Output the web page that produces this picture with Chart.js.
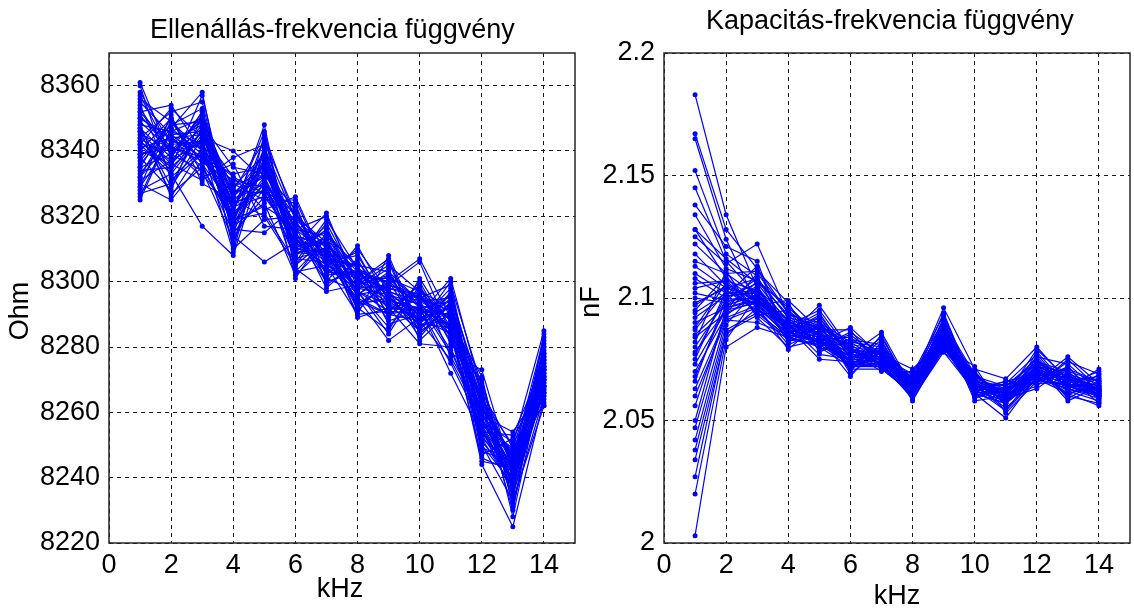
<!DOCTYPE html>
<html>
<head>
<meta charset="utf-8">
<script src="https://cdn.jsdelivr.net/npm/chart.js@4"></script>
<style>
  body { margin: 0; background: #fff; width: 1134px; height: 615px; overflow: hidden; position: relative; }
  canvas { position: absolute; top: 0; }
  #ohmChart { left: 0; }
  #nfChart { left: 579px; }
</style>
</head>
<body>
<canvas id="ohmChart" width="579" height="615"></canvas>
<canvas id="nfChart" width="555" height="615"></canvas>
<script>
// frequencies (kHz)
const freqs = [1, 2, 3, 4, 5, 6, 7, 8, 9, 10, 11, 12, 13, 14];
const kHzTicks = [0, 2, 4, 6, 8, 10, 12, 14];
const ohmTicks = [8220, 8240, 8260, 8280, 8300, 8320, 8340, 8360];
const nfTicks = [2, 2.05, 2.1, 2.15, 2.2];

// resistance per measurement (Ohm)
const ohmSeries = [
  [8361, 8338, 8352, 8318, 8344, 8309, 8316, 8296, 8303, 8287, 8296, 8256, 8249, 8266],
  [8352, 8354, 8340, 8332, 8322, 8326, 8305, 8309, 8291, 8299, 8281, 8270, 8236, 8280],
  [8326, 8347, 8358, 8312, 8340, 8305, 8318, 8300, 8306, 8284, 8293, 8247, 8252, 8270],
  [8347, 8329, 8344, 8340, 8331, 8314, 8300, 8311, 8294, 8296, 8285, 8263, 8230, 8277],
  [8335, 8350, 8333, 8321, 8348, 8303, 8313, 8292, 8300, 8307, 8289, 8252, 8244, 8265],
  [8358, 8342, 8349, 8310, 8319, 8320, 8307, 8305, 8287, 8290, 8301, 8266, 8238, 8284],
  [8330, 8325, 8337, 8327, 8336, 8311, 8321, 8298, 8304, 8282, 8291, 8259, 8254, 8268],
  [8344, 8352, 8355, 8316, 8315, 8323, 8302, 8303, 8296, 8293, 8278, 8273, 8241, 8274],
  [8340, 8336, 8331, 8338, 8342, 8307, 8310, 8290, 8308, 8286, 8295, 8250, 8233, 8262],
  [8355, 8345, 8346, 8324, 8328, 8317, 8298, 8307, 8289, 8300, 8283, 8261, 8247, 8279],
  [8328, 8333, 8317, 8308, 8338, 8301, 8315, 8295, 8282, 8289, 8287, 8244, 8225, 8264],
  [8349, 8340, 8342, 8330, 8325, 8325, 8304, 8301, 8298, 8295, 8299, 8268, 8243, 8282],
  [8337, 8348, 8353, 8314, 8306, 8312, 8312, 8289, 8292, 8281, 8280, 8255, 8235, 8267],
  [8360, 8331, 8339, 8322, 8346, 8304, 8297, 8299, 8305, 8297, 8292, 8264, 8250, 8285],
  [8332, 8343, 8348, 8335, 8333, 8318, 8309, 8294, 8290, 8288, 8276, 8258, 8239, 8271],
  [8346, 8327, 8335, 8319, 8321, 8306, 8319, 8304, 8297, 8283, 8294, 8248, 8245, 8263],
  [8325, 8346, 8350, 8326, 8339, 8315, 8301, 8297, 8286, 8298, 8288, 8271, 8231, 8276],
  [8353, 8339, 8334, 8313, 8329, 8308, 8314, 8291, 8301, 8292, 8272, 8253, 8248, 8269],
  [8342, 8353, 8344, 8328, 8343, 8321, 8306, 8308, 8293, 8285, 8297, 8262, 8237, 8281],
  [8334, 8335, 8357, 8317, 8324, 8302, 8311, 8293, 8299, 8306, 8284, 8246, 8242, 8266],
  [8350, 8344, 8338, 8333, 8335, 8313, 8303, 8302, 8288, 8291, 8290, 8267, 8228, 8273],
  [8327, 8330, 8347, 8311, 8341, 8310, 8317, 8296, 8302, 8294, 8279, 8257, 8251, 8262],
  [8356, 8349, 8336, 8323, 8326, 8324, 8299, 8306, 8295, 8287, 8300, 8251, 8240, 8278],
  [8338, 8328, 8351, 8315, 8337, 8309, 8308, 8292, 8285, 8301, 8286, 8265, 8234, 8272],
  [8345, 8341, 8332, 8336, 8317, 8316, 8320, 8300, 8307, 8284, 8293, 8249, 8246, 8283],
  [8331, 8337, 8343, 8320, 8332, 8303, 8305, 8290, 8291, 8296, 8282, 8269, 8232, 8265],
  [8348, 8326, 8341, 8309, 8345, 8319, 8302, 8310, 8297, 8288, 8298, 8254, 8253, 8275],
  [8329, 8351, 8330, 8325, 8320, 8305, 8313, 8297, 8284, 8299, 8277, 8260, 8236, 8268],
  [8343, 8334, 8346, 8329, 8334, 8322, 8300, 8303, 8300, 8286, 8291, 8245, 8243, 8280],
  [8354, 8332, 8340, 8318, 8330, 8311, 8309, 8294, 8294, 8292, 8275, 8256, 8238, 8270],
  [8341, 8344, 8345, 8323, 8336, 8314, 8311, 8302, 8297, 8293, 8289, 8262, 8244, 8273],
  [8336, 8347, 8339, 8320, 8330, 8318, 8307, 8299, 8295, 8290, 8294, 8258, 8241, 8270],
  [8351, 8340, 8350, 8328, 8327, 8312, 8315, 8304, 8299, 8295, 8286, 8264, 8246, 8276],
  [8339, 8342, 8343, 8317, 8338, 8310, 8309, 8297, 8293, 8289, 8292, 8255, 8239, 8268],
  [8344, 8337, 8348, 8325, 8333, 8320, 8312, 8301, 8301, 8297, 8288, 8260, 8243, 8274],
  [8333, 8345, 8338, 8331, 8329, 8307, 8306, 8295, 8290, 8292, 8284, 8252, 8237, 8271],
  [8357, 8339, 8351, 8322, 8340, 8316, 8314, 8305, 8303, 8294, 8295, 8266, 8249, 8278],
  [8340, 8350, 8336, 8315, 8326, 8313, 8304, 8298, 8296, 8285, 8290, 8257, 8242, 8267],
  [8346, 8336, 8346, 8326, 8335, 8309, 8310, 8300, 8292, 8291, 8287, 8263, 8245, 8275],
  [8329, 8343, 8341, 8319, 8323, 8317, 8308, 8296, 8298, 8296, 8283, 8254, 8240, 8269],
  [8352, 8341, 8337, 8329, 8339, 8311, 8313, 8303, 8294, 8288, 8293, 8261, 8247, 8273],
  [8338, 8348, 8349, 8321, 8331, 8315, 8303, 8302, 8300, 8293, 8285, 8250, 8238, 8266],
  [8343, 8335, 8344, 8324, 8328, 8321, 8310, 8297, 8291, 8290, 8296, 8265, 8244, 8277],
  [8348, 8346, 8342, 8316, 8337, 8308, 8316, 8300, 8297, 8294, 8289, 8259, 8248, 8271],
  [8335, 8339, 8347, 8327, 8332, 8314, 8307, 8293, 8295, 8287, 8286, 8256, 8241, 8272],
  [8350, 8344, 8335, 8318, 8341, 8319, 8311, 8304, 8290, 8295, 8291, 8262, 8246, 8274],
  [8342, 8333, 8345, 8332, 8327, 8312, 8305, 8299, 8302, 8289, 8284, 8253, 8239, 8268],
  [8332, 8349, 8340, 8320, 8334, 8316, 8309, 8301, 8293, 8292, 8294, 8258, 8243, 8276],
  [8347, 8338, 8352, 8325, 8330, 8310, 8312, 8298, 8299, 8296, 8288, 8264, 8245, 8270],
  [8339, 8341, 8338, 8323, 8336, 8313, 8306, 8303, 8296, 8291, 8290, 8260, 8242, 8273]
];

// capacitance per measurement (nF)
const nfSeries = [
  [2.183, 2.134, 2.104, 2.088, 2.092, 2.076, 2.079, 2.062, 2.085, 2.066, 2.058, 2.073, 2.064, 2.061],
  [2.167, 2.128, 2.112, 2.094, 2.083, 2.084, 2.074, 2.068, 2.091, 2.061, 2.063, 2.068, 2.071, 2.066],
  [2.165, 2.124, 2.097, 2.099, 2.087, 2.072, 2.083, 2.059, 2.079, 2.070, 2.056, 2.076, 2.062, 2.058],
  [2.152, 2.118, 2.109, 2.085, 2.097, 2.079, 2.071, 2.065, 2.094, 2.063, 2.066, 2.065, 2.074, 2.069],
  [2.145, 2.115, 2.101, 2.091, 2.080, 2.086, 2.077, 2.071, 2.083, 2.068, 2.060, 2.079, 2.067, 2.063],
  [2.138, 2.121, 2.115, 2.082, 2.089, 2.070, 2.085, 2.061, 2.088, 2.059, 2.064, 2.071, 2.060, 2.057],
  [2.134, 2.112, 2.107, 2.096, 2.085, 2.081, 2.073, 2.067, 2.081, 2.072, 2.053, 2.066, 2.076, 2.065],
  [2.128, 2.108, 2.099, 2.087, 2.094, 2.075, 2.080, 2.063, 2.092, 2.064, 2.061, 2.074, 2.065, 2.070],
  [2.125, 2.114, 2.122, 2.093, 2.082, 2.088, 2.076, 2.060, 2.086, 2.067, 2.057, 2.069, 2.070, 2.060],
  [2.118, 2.105, 2.094, 2.084, 2.091, 2.073, 2.072, 2.069, 2.078, 2.062, 2.065, 2.077, 2.063, 2.067],
  [2.115, 2.110, 2.111, 2.098, 2.078, 2.083, 2.081, 2.064, 2.090, 2.069, 2.059, 2.063, 2.072, 2.059],
  [2.110, 2.102, 2.103, 2.089, 2.095, 2.078, 2.070, 2.070, 2.084, 2.060, 2.062, 2.072, 2.058, 2.064],
  [2.106, 2.107, 2.096, 2.081, 2.086, 2.071, 2.078, 2.058, 2.080, 2.065, 2.055, 2.067, 2.068, 2.062],
  [2.102, 2.099, 2.108, 2.092, 2.081, 2.085, 2.075, 2.066, 2.096, 2.071, 2.067, 2.080, 2.066, 2.068],
  [2.098, 2.104, 2.100, 2.086, 2.088, 2.074, 2.084, 2.062, 2.082, 2.063, 2.054, 2.070, 2.061, 2.056],
  [2.095, 2.109, 2.093, 2.095, 2.084, 2.080, 2.072, 2.068, 2.087, 2.058, 2.060, 2.064, 2.075, 2.063],
  [2.092, 2.101, 2.113, 2.083, 2.090, 2.069, 2.079, 2.060, 2.079, 2.066, 2.064, 2.075, 2.063, 2.071],
  [2.088, 2.106, 2.098, 2.090, 2.079, 2.082, 2.074, 2.065, 2.089, 2.061, 2.051, 2.068, 2.069, 2.060],
  [2.085, 2.097, 2.105, 2.086, 2.093, 2.077, 2.086, 2.063, 2.083, 2.069, 2.058, 2.073, 2.059, 2.066],
  [2.082, 2.111, 2.092, 2.080, 2.083, 2.072, 2.076, 2.069, 2.093, 2.064, 2.063, 2.066, 2.072, 2.058],
  [2.078, 2.095, 2.110, 2.094, 2.087, 2.087, 2.071, 2.061, 2.081, 2.070, 2.056, 2.078, 2.064, 2.065],
  [2.075, 2.103, 2.095, 2.088, 2.075, 2.074, 2.080, 2.066, 2.086, 2.062, 2.066, 2.069, 2.067, 2.061],
  [2.070, 2.093, 2.102, 2.082, 2.089, 2.079, 2.073, 2.059, 2.078, 2.067, 2.059, 2.071, 2.060, 2.069],
  [2.066, 2.100, 2.106, 2.097, 2.084, 2.068, 2.082, 2.064, 2.091, 2.060, 2.062, 2.076, 2.073, 2.062],
  [2.060, 2.091, 2.090, 2.085, 2.092, 2.076, 2.075, 2.067, 2.084, 2.065, 2.054, 2.067, 2.061, 2.064],
  [2.050, 2.096, 2.099, 2.091, 2.081, 2.083, 2.077, 2.062, 2.088, 2.068, 2.061, 2.072, 2.070, 2.059],
  [2.042, 2.089, 2.104, 2.087, 2.086, 2.071, 2.071, 2.068, 2.080, 2.063, 2.065, 2.065, 2.066, 2.067],
  [2.034, 2.085, 2.096, 2.079, 2.090, 2.078, 2.078, 2.060, 2.085, 2.061, 2.057, 2.070, 2.062, 2.063],
  [2.020, 2.083, 2.101, 2.089, 2.077, 2.075, 2.074, 2.065, 2.082, 2.069, 2.060, 2.074, 2.068, 2.057],
  [2.003, 2.080, 2.088, 2.084, 2.088, 2.073, 2.079, 2.063, 2.087, 2.064, 2.063, 2.069, 2.065, 2.062],
  [2.128, 2.116, 2.106, 2.090, 2.087, 2.079, 2.077, 2.064, 2.086, 2.065, 2.061, 2.071, 2.067, 2.063],
  [2.122, 2.110, 2.101, 2.087, 2.084, 2.076, 2.075, 2.062, 2.083, 2.063, 2.059, 2.069, 2.065, 2.061],
  [2.113, 2.104, 2.108, 2.092, 2.089, 2.081, 2.079, 2.066, 2.088, 2.067, 2.063, 2.073, 2.069, 2.065],
  [2.108, 2.100, 2.098, 2.085, 2.082, 2.074, 2.073, 2.061, 2.081, 2.061, 2.057, 2.067, 2.063, 2.060],
  [2.104, 2.107, 2.103, 2.089, 2.086, 2.078, 2.076, 2.063, 2.085, 2.064, 2.060, 2.070, 2.066, 2.062],
  [2.100, 2.098, 2.104, 2.091, 2.088, 2.080, 2.078, 2.065, 2.087, 2.066, 2.062, 2.072, 2.068, 2.064],
  [2.097, 2.105, 2.099, 2.086, 2.083, 2.075, 2.074, 2.062, 2.082, 2.062, 2.058, 2.068, 2.064, 2.061],
  [2.094, 2.102, 2.102, 2.088, 2.085, 2.077, 2.075, 2.064, 2.084, 2.064, 2.060, 2.069, 2.065, 2.063],
  [2.090, 2.096, 2.100, 2.087, 2.084, 2.076, 2.076, 2.063, 2.084, 2.065, 2.061, 2.071, 2.066, 2.062],
  [2.087, 2.103, 2.097, 2.084, 2.081, 2.073, 2.072, 2.061, 2.080, 2.062, 2.058, 2.067, 2.064, 2.060],
  [2.084, 2.094, 2.107, 2.093, 2.090, 2.082, 2.080, 2.067, 2.089, 2.068, 2.064, 2.074, 2.070, 2.066],
  [2.080, 2.099, 2.100, 2.086, 2.082, 2.075, 2.074, 2.062, 2.083, 2.063, 2.059, 2.068, 2.064, 2.061],
  [2.077, 2.101, 2.102, 2.089, 2.087, 2.079, 2.077, 2.064, 2.086, 2.066, 2.062, 2.072, 2.067, 2.064],
  [2.073, 2.095, 2.098, 2.085, 2.083, 2.076, 2.075, 2.063, 2.083, 2.064, 2.060, 2.070, 2.066, 2.062],
  [2.068, 2.097, 2.101, 2.088, 2.085, 2.077, 2.076, 2.064, 2.085, 2.065, 2.061, 2.071, 2.067, 2.063],
  [2.063, 2.092, 2.097, 2.087, 2.084, 2.076, 2.075, 2.063, 2.084, 2.064, 2.060, 2.070, 2.066, 2.062],
  [2.056, 2.094, 2.099, 2.086, 2.083, 2.074, 2.074, 2.062, 2.082, 2.063, 2.059, 2.069, 2.065, 2.061],
  [2.047, 2.091, 2.096, 2.085, 2.082, 2.073, 2.073, 2.061, 2.081, 2.062, 2.058, 2.068, 2.064, 2.060],
  [2.038, 2.087, 2.094, 2.084, 2.080, 2.072, 2.072, 2.060, 2.080, 2.061, 2.057, 2.067, 2.063, 2.059],
  [2.027, 2.086, 2.093, 2.083, 2.081, 2.073, 2.073, 2.061, 2.081, 2.062, 2.058, 2.068, 2.064, 2.060]
];

const FONT = '"Liberation Sans", Arial, sans-serif';
const tickFont = { family: FONT, size: 27 };

// titles, axis labels and the box around the plot area
function textPlugin(t) {
    return {
        id: 'texts',
        afterDraw(chart) {
            const ctx = chart.ctx;
            const a = chart.chartArea;
            ctx.save();
            ctx.strokeStyle = '#262626';
            ctx.lineWidth = 1.5;
            ctx.strokeRect(a.left, a.top, a.right - a.left, a.bottom - a.top);
            ctx.fillStyle = '#000';
            ctx.font = '27px ' + FONT;
            ctx.textAlign = 'left';
            ctx.textBaseline = 'alphabetic';
            ctx.fillText(t.title, t.titleX, t.titleY);
            ctx.textAlign = 'center';
            ctx.textBaseline = 'middle';
            ctx.fillText(t.xTitle, t.xTitleX, t.xTitleY);
            ctx.translate(t.yTitleX, t.yTitleY);
            ctx.rotate(-Math.PI / 2);
            ctx.fillText(t.yTitle, 0, 0);
            ctx.restore();
        }
    };
}

function buildChart(canvasId, series, yMin, yMax, yTicks, yAxisWidth, rightPad, texts) {
    const datasets = series.map(function (row) {
        return {
            data: freqs.map(function (f, i) { return { x: f, y: row[i] }; }),
            borderColor: '#0000ff',
            backgroundColor: '#0000ff',
            borderWidth: 1.2,
            pointRadius: 2.5,
            pointBorderWidth: 0,
            pointBackgroundColor: '#0000ff',
            tension: 0
        };
    });

    return new Chart(document.getElementById(canvasId).getContext('2d'), {
        type: 'line',
        data: { datasets: datasets },
        options: {
            responsive: false,
            animation: false,
            devicePixelRatio: 1,
            layout: { padding: { top: 53, right: rightPad, bottom: 0, left: 0 } },
            plugins: {
                legend: { display: false },
                tooltip: { enabled: false },
                title: { display: false }
            },
            scales: {
                x: {
                    type: 'linear',
                    min: 0,
                    max: 15,
                    afterBuildTicks: function (s) { s.ticks = kHzTicks.map(function (v) { return { value: v }; }); },
                    afterFit: function (s) { s.height = 72; },
                    grid: { color: '#1a1a1a', lineWidth: 1, drawTicks: false },
                    border: { display: false, dash: [4, 4] },
                    ticks: { color: '#000', font: tickFont, padding: 6, maxRotation: 0, callback: function (v) { return String(v); } }
                },
                y: {
                    min: yMin,
                    max: yMax,
                    afterBuildTicks: function (s) { s.ticks = yTicks.map(function (v) { return { value: v }; }); },
                    afterFit: function (s) { s.width = yAxisWidth; },
                    grid: { color: '#1a1a1a', lineWidth: 1, drawTicks: false },
                    border: { display: false, dash: [4, 4] },
                    ticks: { color: '#000', font: tickFont, padding: 9, callback: function (v) { return String(v); } }
                }
            }
        },
        plugins: [textPlugin(texts)]
    });
}

buildChart('ohmChart', ohmSeries, 8220, 8370, ohmTicks, 109, 2, {
    title: 'Ellenállás-frekvencia függvény', titleX: 150, titleY: 38,
    xTitle: 'kHz', xTitleX: 340, xTitleY: 590,
    yTitle: 'Ohm', yTitleX: 21, yTitleY: 311
});

buildChart('nfChart', nfSeries, 2, 2.2, nfTicks, 85, 1, {
    title: 'Kapacitás-frekvencia függvény', titleX: 127, titleY: 29,
    xTitle: 'kHz', xTitleX: 318, xTitleY: 597,
    yTitle: 'nF', yTitleX: 13, yTitleY: 302
});
</script>
</body>
</html>
